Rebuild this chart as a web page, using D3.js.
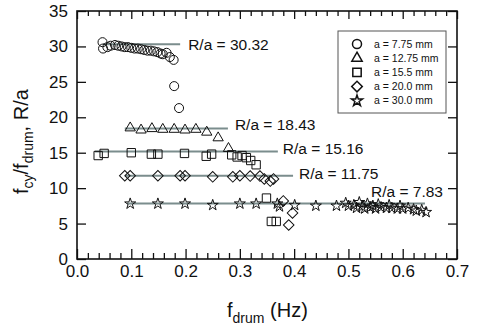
<!DOCTYPE html>
<html>
<head>
<meta charset="utf-8">
<script src="https://cdn.jsdelivr.net/npm/d3@7"></script>
<style>
  body { margin: 0; background: #fff; }
  text { font-family: "Liberation Sans", Arial, sans-serif; fill: #111; }
</style>
</head>
<body>
<div id="chart"></div>
<script>
// ---- data ----
var xTicks = [0.0, 0.1, 0.2, 0.3, 0.4, 0.5, 0.6, 0.7];
var yTicks = [0, 5, 10, 15, 20, 25, 30, 35];

var seriesNames = ["a = 7.75 mm", "a = 12.75 mm", "a = 15.5 mm", "a = 20.0 mm", "a = 30.0 mm"];

var circlePts = [[0.047, 30.6], [0.048, 29.7], [0.056, 29.9], [0.062, 30.1], [0.07, 30.2], [0.076, 30.1],
    [0.082, 30.0], [0.088, 29.9], [0.094, 29.9], [0.1, 29.8], [0.106, 29.7], [0.112, 29.7], [0.118, 29.6],
    [0.124, 29.5], [0.13, 29.4], [0.136, 29.4], [0.142, 29.3], [0.148, 29.2], [0.154, 29.0], [0.158, 28.9],
    [0.165, 29.1], [0.171, 28.5], [0.178, 28.1], [0.179, 24.4], [0.188, 21.3]];

var trianglePts = [[0.098, 18.5], [0.118, 18.2], [0.138, 18.4], [0.158, 18.3], [0.179, 18.3], [0.199, 18.2],
    [0.219, 18.3], [0.239, 17.9], [0.26, 17.1], [0.279, 15.6]];

var squarePts = [[0.039, 14.6], [0.05, 14.9], [0.1, 15.0], [0.137, 14.8], [0.149, 14.8], [0.198, 14.9],
    [0.238, 14.5], [0.248, 14.8], [0.285, 14.7], [0.295, 14.4], [0.304, 14.6], [0.312, 14.3], [0.32, 13.9],
    [0.33, 13.3], [0.349, 8.6], [0.358, 5.3], [0.367, 5.3]];

var diamondPts = [[0.088, 11.75], [0.098, 11.75], [0.149, 11.75], [0.19, 11.75], [0.199, 11.75], [0.25, 11.6],
    [0.287, 11.6], [0.3, 11.75], [0.319, 11.7], [0.337, 11.7], [0.345, 11.3], [0.356, 11.0], [0.362, 11.3],
    [0.38, 8.2], [0.397, 6.5], [0.39, 4.8]];

var starPts = [[0.098, 7.8], [0.149, 7.8], [0.199, 7.8], [0.25, 7.6], [0.3, 7.8], [0.33, 7.8], [0.369, 7.8],
    [0.373, 7.4], [0.401, 7.6], [0.44, 7.5], [0.478, 7.5], [0.495, 7.9], [0.5, 7.5], [0.51, 7.6], [0.515, 7.2],
    [0.52, 8.0], [0.525, 7.4], [0.53, 7.1], [0.535, 7.8], [0.54, 7.3], [0.545, 7.5], [0.55, 7.1], [0.555, 7.7],
    [0.56, 7.3], [0.57, 7.2], [0.575, 7.6], [0.58, 7.2], [0.59, 7.1], [0.595, 7.5], [0.6, 7.1], [0.61, 7.2],
    [0.62, 7.0], [0.625, 6.8], [0.635, 6.9], [0.643, 6.6]];

// R/a levels and the x span of each grey line
var fitLevels = [30.32, 18.43, 15.16, 11.75, 7.83];
var fitStart = [0.048, 0.088, 0.033, 0.088, 0.092];
var fitEnd = [0.19, 0.278, 0.37, 0.398, 0.641];

// set the dimensions and margins of the graph
var margin = { top: 11, right: 22, bottom: 76, left: 77 },
    width = 479 - margin.left - margin.right,
    height = 335 - margin.top - margin.bottom;

var svg = d3.select("#chart")
    .append("svg")
    .attr("width", 479)
    .attr("height", 335)
    .append("g")
    .attr("transform", "translate(" + margin.left + "," + margin.top + ")");

var x = d3.scaleLinear().domain([0, 0.7]).range([0, width]);
var y = d3.scaleLinear().domain([0, 35]).range([height, 0]);

//////////
// AXES //
//////////

var minorX = d3.range(0, 36).map(function (i) { return i * 0.02; })
    .filter(function (v) { return Math.abs(v * 10 - Math.round(v * 10)) > 1e-6 && v <= 0.7; });

// bottom: major + minor, ticks pointing in
var xAxis = svg.append("g")
    .attr("transform", "translate(0," + height + ")")
    .call(d3.axisBottom(x).tickValues(xTicks).tickSize(-10).tickPadding(6).tickFormat(d3.format(".1f")));
svg.append("g")
    .attr("transform", "translate(0," + height + ")")
    .call(d3.axisBottom(x).tickValues(minorX).tickSize(-6).tickFormat(""));

// top: no labels
svg.append("g")
    .call(d3.axisTop(x).tickValues(xTicks).tickSize(-8).tickFormat(""));
svg.append("g")
    .call(d3.axisTop(x).tickValues(minorX).tickSize(-5).tickFormat(""));

// left / right
var yAxis = svg.append("g")
    .call(d3.axisLeft(y).tickValues(yTicks).tickSize(-9).tickPadding(9));
svg.append("g")
    .attr("transform", "translate(" + width + ",0)")
    .call(d3.axisRight(y).tickValues(yTicks).tickSize(-9).tickFormat(""));

svg.selectAll(".domain").remove();
svg.selectAll(".tick line").attr("stroke", "#111").attr("stroke-width", 1.3);
svg.selectAll(".tick text").style("font-size", "17px").attr("fill", "#111");

svg.append("rect")
    .attr("width", width)
    .attr("height", height)
    .attr("fill", "none")
    .attr("stroke", "#111")
    .attr("stroke-width", 1.6);

// axis titles
var xTitle = svg.append("text")
    .attr("x", 150)
    .attr("y", height + 58)
    .style("font-size", "20px");
xTitle.append("tspan").text("f");
xTitle.append("tspan").attr("dy", 6).style("font-size", "14px").text("drum");
xTitle.append("tspan").attr("dy", -6).text(" (Hz)");

var yTitle = svg.append("text")
    .attr("transform", "translate(-49,183) rotate(-90)")
    .style("font-size", "20px");
yTitle.append("tspan").text("f");
yTitle.append("tspan").attr("dy", 5).style("font-size", "14px").text("cy");
yTitle.append("tspan").attr("dy", -5).text("/f");
yTitle.append("tspan").attr("dy", 5).style("font-size", "14px").text("drum");
yTitle.append("tspan").attr("dy", -5).text(", R/a");

//////////
// FIT LINES //
//////////

var labelDx = [8, 7, 5, 6, 18];
var labelDy = [6, 1.5, 2.5, 3.3, -7];

svg.selectAll("fitline")
    .data(fitLevels)
    .enter()
    .append("line")
    .attr("x1", function (d, i) { return x(fitStart[i]); })
    .attr("x2", function (d, i) { return x(fitEnd[i]); })
    .attr("y1", function (d) { return y(d); })
    .attr("y2", function (d) { return y(d); })
    .attr("stroke", "#7b8d8d")
    .attr("stroke-width", 2);

svg.selectAll("fitlabel")
    .data(fitLevels)
    .enter()
    .append("text")
    .attr("x", function (d, i) { return x(fitEnd[i]) + labelDx[i]; })
    .attr("y", function (d, i) { return y(d) + labelDy[i]; })
    .attr("text-anchor", function (d, i) { return i == 4 ? "end" : "start"; })
    .style("font-size", "15.5px")
    .text(function (d) { return "R/a = " + d; });

//////////
// POINTS //
//////////

var symCircle = d3.symbol().type(d3.symbolCircle).size(64);
var symTriangle = d3.symbol().type(d3.symbolTriangle).size(46);
var symSquare = d3.symbol().type(d3.symbolSquare).size(70);
var symDiamond = d3.symbol().type(d3.symbolSquare).size(56);
var symStar = d3.symbol().type(d3.symbolStar).size(38);

var shapes = [
    { pts: circlePts, sym: symCircle, rot: 0 },
    { pts: trianglePts, sym: symTriangle, rot: 0 },
    { pts: squarePts, sym: symSquare, rot: 0 },
    { pts: diamondPts, sym: symDiamond, rot: 45 },
    { pts: starPts, sym: symStar, rot: 0 }
];

shapes.forEach(function (s) {
    svg.append("g")
        .selectAll("path")
        .data(s.pts)
        .enter()
        .append("path")
        .attr("d", s.sym)
        .attr("transform", function (d) {
            return "translate(" + x(d[0]) + "," + y(d[1]) + ") rotate(" + s.rot + ")";
        })
        .attr("fill", "none")
        .attr("stroke", "#111")
        .attr("stroke-width", 1);
});

//////////
// LEGEND //
//////////

var legend = svg.append("g").attr("transform", "translate(261,20)");
legend.append("rect")
    .attr("width", 108)
    .attr("height", 82)
    .attr("fill", "#fff")
    .attr("stroke", "#555")
    .attr("stroke-width", 1);

legend.selectAll("legsym")
    .data(shapes)
    .enter()
    .append("path")
    .attr("d", function (d) { return d.sym(); })
    .attr("transform", function (d, i) {
        return "translate(19," + (13 + i * 14.2) + ") rotate(" + d.rot + ")";
    })
    .attr("fill", "none")
    .attr("stroke", "#111")
    .attr("stroke-width", 1.5);

legend.selectAll("leglabel")
    .data(seriesNames)
    .enter()
    .append("text")
    .attr("x", 36)
    .attr("y", function (d, i) { return 13 + i * 14.2; })
    .attr("dy", "0.35em")
    .style("font-size", "10.5px")
    .text(function (d) { return d; });
</script>
</body>
</html>
